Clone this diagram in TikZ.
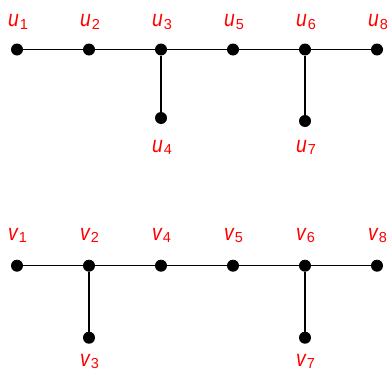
\documentclass[tikz,border=0pt]{standalone}
\usepackage{fontspec}
\setmainfont{Liberation Sans}
\newcommand{\lbl}[2]{\scalebox{0.84}[1]{\fontsize{23}{26}\selectfont\itshape #1}\kern1pt\raisebox{-0.25em}{\fontsize{14.5}{15}\selectfont #2}}
\begin{document}
\begin{tikzpicture}[x=1pt,y=-1pt,
  dot/.style={circle,fill=black,inner sep=0pt,minimum size=12pt},
  lab/.style={text=red,anchor=base west,inner sep=0pt},
  edge/.style={line width=1.2pt}]
\useasboundingbox (0,0) rectangle (388,372);
% top tree
\node[dot] (u1) at (17,49.5) {};
\node[dot] (u2) at (89,49.5) {};
\node[dot] (u3) at (161,49.5) {};
\node[dot] (u5) at (233,49.5) {};
\node[dot] (u6) at (305,49.5) {};
\node[dot] (u8) at (377,49.5) {};
\node[dot] (u4) at (161,118) {};
\node[dot] (u7) at (305,121) {};
\draw[edge] (u1) -- (u2) -- (u3) -- (u5) -- (u6) -- (u8);
\draw[edge] (u3) -- (u4);
\draw[edge] (u6) -- (u7);
\node[lab] (lu1) at (8,26.5) {\lbl{u}{1}};
\node[lab] (lu2) at (80,26.5) {\lbl{u}{2}};
\node[lab] (lu3) at (152,26.5) {\lbl{u}{3}};
\node[lab] (lu5) at (224,26.5) {\lbl{u}{5}};
\node[lab] (lu6) at (296,26.5) {\lbl{u}{6}};
\node[lab] (lu8) at (368,26.5) {\lbl{u}{8}};
\node[lab] (lu4) at (152,152) {\lbl{u}{4}};
\node[lab] (lu7) at (296,152) {\lbl{u}{7}};
% bottom tree
\node[dot] (v1) at (17,265.7) {};
\node[dot] (v2) at (89,265.7) {};
\node[dot] (v4) at (161,265.7) {};
\node[dot] (v5) at (233,265.7) {};
\node[dot] (v6) at (305,265.7) {};
\node[dot] (v8) at (377,265.7) {};
\node[dot] (v3) at (89,337.7) {};
\node[dot] (v7) at (305,337.7) {};
\draw[edge] (v1) -- (v2) -- (v4) -- (v5) -- (v6) -- (v8);
\draw[edge] (v2) -- (v3);
\draw[edge] (v6) -- (v7);
\node[lab] (lv1) at (8,240) {\lbl{v}{1}};
\node[lab] (lv2) at (80,240) {\lbl{v}{2}};
\node[lab] (lv4) at (152,240) {\lbl{v}{4}};
\node[lab] (lv5) at (224,240) {\lbl{v}{5}};
\node[lab] (lv6) at (296,240) {\lbl{v}{6}};
\node[lab] (lv8) at (368,240) {\lbl{v}{8}};
\node[lab] (lv3) at (80,366) {\lbl{v}{3}};
\node[lab] (lv7) at (296,366) {\lbl{v}{7}};
\end{tikzpicture}
\end{document}
